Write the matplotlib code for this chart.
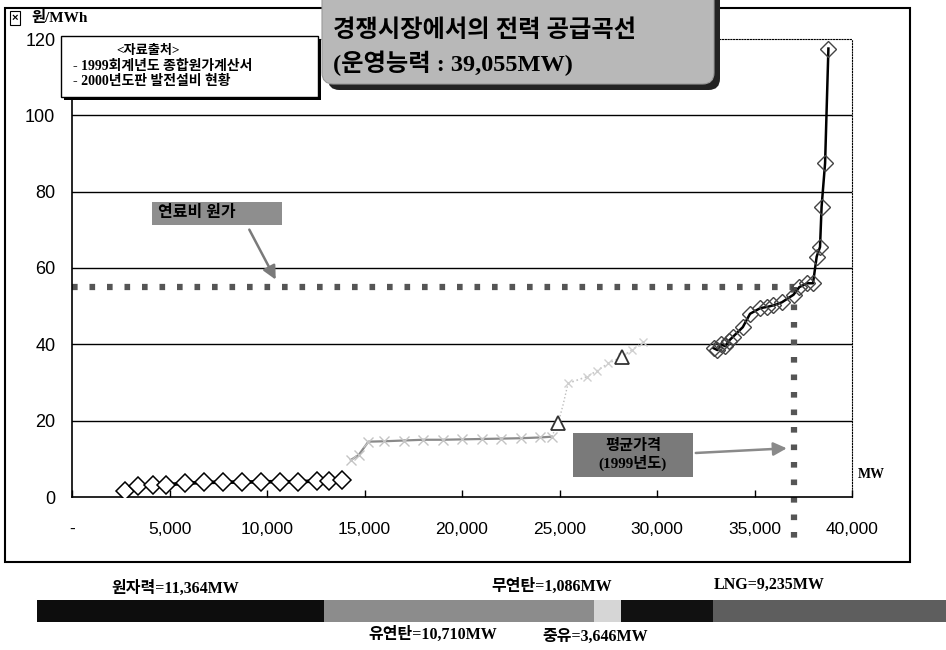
import matplotlib
matplotlib.use("Agg")
import matplotlib.pyplot as plt
from matplotlib.patches import Rectangle, FancyBboxPatch

# 폰트: 숫자/영문은 세리프, 한글은 Noto CJK로 대체
SANS = ['Liberation Sans', 'Noto Sans CJK KR']
SERIF = ['Liberation Serif', 'Noto Sans CJK KR']
plt.rcParams['font.family'] = SANS

# ===== 공급곡선 데이터 (누적 용량 MW, 발전단가 원/MWh) =====
nuc_mw = [2700, 3400, 4150, 4800, 5800, 6750, 7750, 8700, 9700, 10650, 11600, 12550, 13200, 13850]
nuc_cost = [1.5, 3.0, 3.1, 3.2, 3.6, 3.8, 3.9, 3.9, 4.0, 4.0, 4.0, 4.2, 4.3, 4.4]

bit_mw = [14300, 14700, 15200, 16000, 17000, 18000, 19000, 20000, 21000, 22000, 23000, 24000, 24600]
bit_cost = [9.7, 11.0, 14.5, 14.6, 14.8, 15.0, 15.0, 15.1, 15.2, 15.3, 15.4, 15.6, 15.8]

ant_mw = [24600, 24940, 25200, 25440]
ant_cost = [15.8, 19.5, 24.5, 29.8]

oil_mw = [25440, 26400, 26900, 27500, 28190, 28700, 29300]
oil_cost = [29.8, 31.5, 33.0, 35.0, 36.7, 38.5, 40.5]

lng_mw = [32900, 33100, 33300, 33500, 33700, 33900, 34400, 34770, 35300, 35650, 35950,
          36400, 37000, 37300, 37700, 38000, 38190, 38360, 38440, 38620, 38790]
lng_cost = [39.0, 38.5, 40.0, 39.5, 41.0, 42.0, 44.5, 48.0, 49.5, 49.8, 50.2,
            51.0, 53.0, 55.0, 56.0, 56.0, 63.0, 65.5, 76.0, 87.5, 117.5]

# 연료비 원가 / 1999년도 평균 수요
fuel_cost = 55
demand_mw = 37000

# 하단 설비구성 막대
fuel_names = ['원자력', '유연탄', '무연탄', '중유', 'LNG']
fuel_mw = [11364, 10710, 1086, 3646, 9235]

x_ticks = [0, 5000, 10000, 15000, 20000, 25000, 30000, 35000, 40000]
y_ticks = [0, 20, 40, 60, 80, 100, 120]

W, H = 946, 650
fig = plt.figure(figsize=(W / 100, H / 100), dpi=100)


def fx(px):
    return px / W


def fy(py):
    return 1 - py / H


# 바깥 테두리
fig.patches.append(Rectangle((fx(5), fy(562)), fx(905), (562 - 8) / H, transform=fig.transFigure,
                             fill=False, ec='black', lw=1.5))

ax = fig.add_axes([fx(72), fy(497), fx(852 - 72), (497 - 39) / H])
ax.set_xlim(0, 40000)
ax.set_ylim(0, 120)
ax.set_xticks(x_ticks)
ax.set_xticklabels(['-' if v == 0 else f'{v:,}' for v in x_ticks], fontsize=12.5)
ax.set_yticks(y_ticks)
ax.set_yticklabels([str(v) for v in y_ticks], fontsize=13)
ax.tick_params(axis='x', direction='in', length=5, width=1, pad=18)
ax.tick_params(axis='y', length=0, pad=12)
for y in y_ticks[1:-1]:
    ax.axhline(y, color='black', lw=1, zorder=0)
for s in ['top', 'right']:
    ax.spines[s].set_linestyle((0, (1, 1.5)))
    ax.spines[s].set_linewidth(0.8)
for s in ['left', 'bottom']:
    ax.spines[s].set_linewidth(1.2)

# 공급곡선
ax.plot(bit_mw, bit_cost, color='#8a8a8a', lw=1.6, marker='x', ms=7, mec='#c4c4c4', zorder=3)
ax.plot(ant_mw, ant_cost, color='#bdbdbd', lw=1, ls=':', zorder=3)
ax.plot([ant_mw[1]], [ant_cost[1]], marker='^', ms=10, mfc='white', mec='#333333', mew=1.3, zorder=4)
ax.plot(oil_mw, oil_cost, color='#c4c4c4', lw=1.2, ls=':', marker='x', ms=6, mec='#d0d0d0', zorder=3)
ax.plot([oil_mw[4]], [oil_cost[4]], marker='^', ms=10, mfc='white', mec='#333333', mew=1.3, zorder=4)
ax.plot(nuc_mw, nuc_cost, color='black', lw=2.6, marker='D', ms=9, mfc='white', mec='black', mew=1.1, zorder=5)
ax.plot(lng_mw, lng_cost, color='black', lw=1.8, marker='D', ms=8, mfc='none', mec='#444444', mew=1, zorder=5)

# 연료비 원가 / 평균수요 점선
dot = dict(color='#555555', lw=4.5, ls=(0, (0.9, 1.9)), zorder=2)
ax.plot([0, demand_mw], [fuel_cost, fuel_cost], **dot)
ax.plot([demand_mw, demand_mw], [fuel_cost, -12], clip_on=False, **dot)

# 주석 상자
ax.add_patch(Rectangle((4103, 71.3), 10769 - 4103, 77.3 - 71.3, fc='#8e8e8e', ec='none', zorder=6))
ax.text(6393, 74.3, '연료비 원가', fontsize=11.5, fontweight='bold', family=SERIF,
        ha='center', va='center', zorder=7)
ax.annotate('', xy=(10513, 56.3), xytext=(9026, 70.7),
            arrowprops=dict(arrowstyle='-|>', color='#7a7a7a', lw=1.8, mutation_scale=20), zorder=6)

ax.add_patch(Rectangle((25692, 5.2), 31846 - 25692, 16.8 - 5.2, fc='#7a7a7a', ec='none', zorder=6))
ax.text(28769, 11.0, '평균가격\n(1999년도)', fontsize=11, fontweight='bold', family=SERIF,
        ha='center', va='center', linespacing=1.1, zorder=7)
ax.annotate('', xy=(36800, 12.8), xytext=(31846, 11.5),
            arrowprops=dict(arrowstyle='-|>', color='#8a8a8a', lw=1.8, mutation_scale=20), zorder=6)

# 축 단위
fig.text(fx(858), fy(474), 'MW', fontsize=10, fontweight='bold', family=SERIF, va='center')
fig.text(fx(31), fy(18), '원/MWh', fontsize=11, fontweight='bold', family=SERIF, va='center')
fig.text(fx(15), fy(18), '×', fontsize=8, fontweight='bold', ha='center', va='center',
         bbox=dict(boxstyle='square,pad=0.15', fc='white', ec='black', lw=0.8))

# 자료출처 상자
fig.patches.append(Rectangle((fx(64), fy(100)), fx(318 - 61), (97 - 36) / H, transform=fig.transFigure,
                             fc='black', ec='none', zorder=4))
fig.patches.append(Rectangle((fx(61), fy(97)), fx(318 - 61), (97 - 36) / H, transform=fig.transFigure,
                             fc='white', ec='black', lw=1, zorder=5))
fig.text(fx(148), fy(51), '<자료출처>', fontsize=9.5, fontweight='bold', family=SERIF, ha='center', va='center', zorder=6)
fig.text(fx(73), fy(66), '- 1999회계년도 종합원가계산서', fontsize=10, fontweight='bold', family=SERIF, va='center', zorder=6)
fig.text(fx(73), fy(81), '- 2000년도판 발전설비 현황', fontsize=10, fontweight='bold', family=SERIF, va='center', zorder=6)

# 제목 상자
fig.patches.append(FancyBboxPatch((fx(328), fy(90)), fx(714 - 322), 0.2, transform=fig.transFigure,
                                  boxstyle='round,pad=0,rounding_size=0.012', mutation_aspect=W / H,
                                  fc='#222222', ec='none', zorder=4))
fig.patches.append(FancyBboxPatch((fx(322), fy(84)), fx(714 - 322), 0.2, transform=fig.transFigure,
                                  boxstyle='round,pad=0,rounding_size=0.012', mutation_aspect=W / H,
                                  fc='#b8b8b8', ec='#9a9a9a', lw=0.8, zorder=5))
fig.text(fx(333), fy(31), '경쟁시장에서의 전력 공급곡선', fontsize=17.5, fontweight='bold', family=SERIF,
         va='center', zorder=6)
fig.text(fx(333), fy(63), '(운영능력 : 39,055MW)', fontsize=17.5, fontweight='bold', family=SERIF,
         va='center', zorder=6)

# 하단 설비구성 막대
bx = fig.add_axes([fx(37), fy(622), fx(946 - 37), 22 / H])
bx.set_xlim(0, sum(fuel_mw))
bx.set_ylim(0, 1)
bx.axis('off')
bar_colors = ['#0d0d0d', '#8c8c8c', '#d6d6d6', '#111111', '#5e5e5e']
left = 0
for name, mw, c in zip(fuel_names, fuel_mw, bar_colors):
    bx.barh(0.5, mw, left=left, height=1, color=c, edgecolor='none')
    left += mw

label_pos = {'원자력': (175, 589), '무연탄': (552, 587), 'LNG': (769, 585),
             '유연탄': (433, 635), '중유': (595, 637)}
for name, mw in zip(fuel_names, fuel_mw):
    px, py = label_pos[name]
    fig.text(fx(px), fy(py), f'{name}={mw:,}MW', fontsize=11.5, fontweight='bold', family=SERIF,
             ha='center', va='center')

fig.savefig('out.png', dpi=100)
